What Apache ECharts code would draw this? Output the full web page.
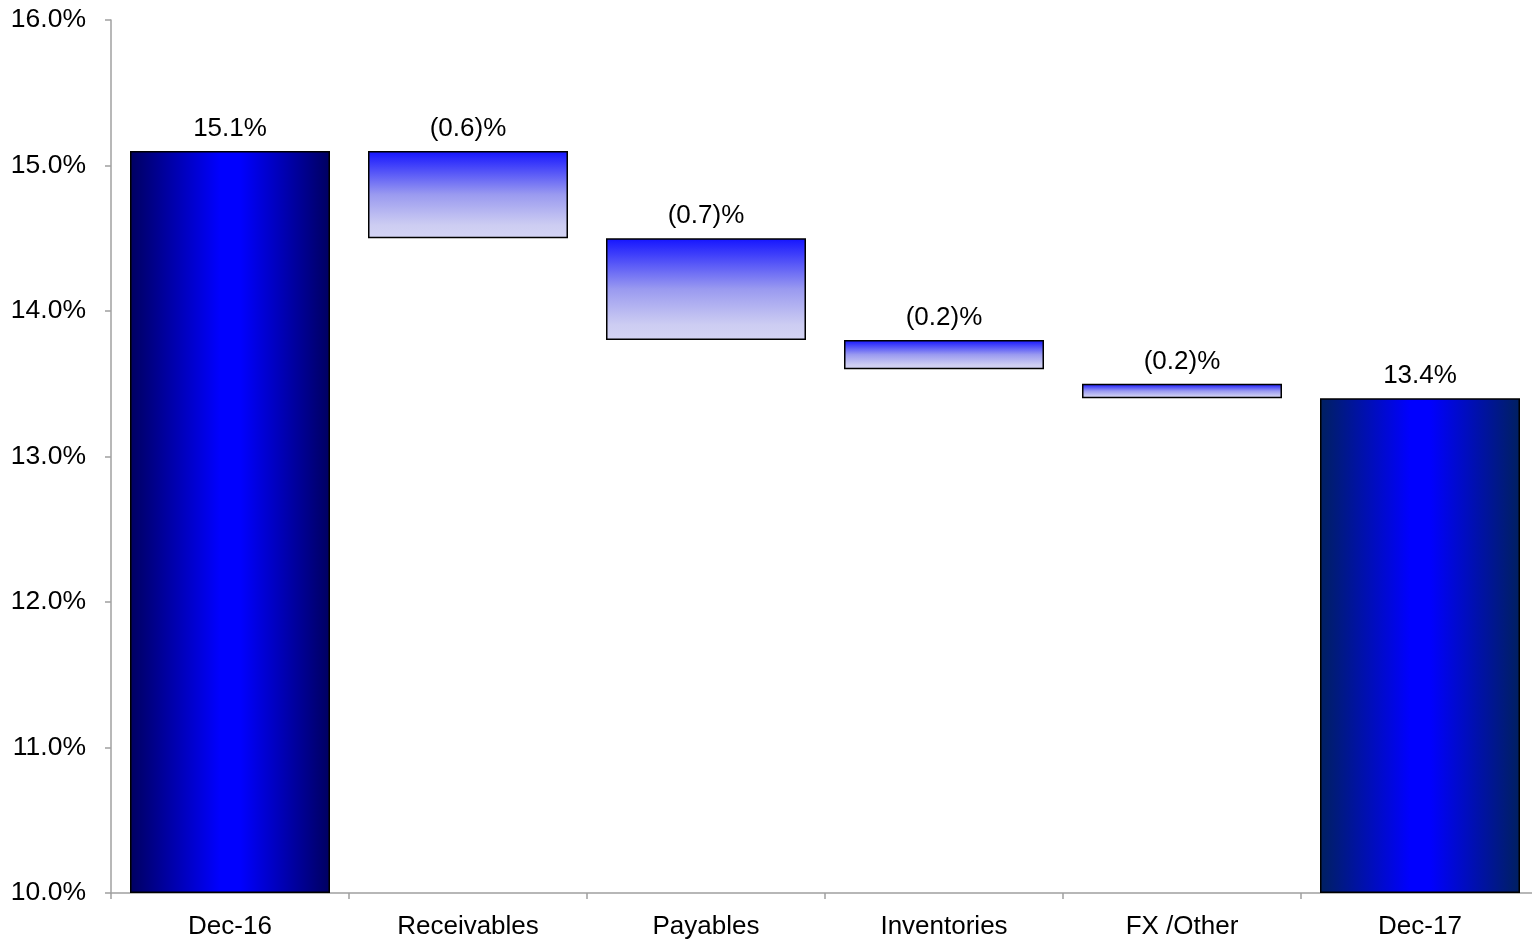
<!DOCTYPE html>
<html>
<head>
<meta charset="utf-8">
<script src="https://cdn.jsdelivr.net/npm/echarts@6/dist/echarts.min.js"></script>
<style>
html,body{margin:0;padding:0;background:#fff;overflow:hidden;width:1532px;height:940px;}
#chart{width:1545px;height:940px;}
</style>
</head>
<body>
<div id="chart"></div>
<script>
const categories = ['Dec-16', 'Receivables', 'Payables', 'Inventories', 'FX /Other', 'Dec-17'];
const barLow = [10.0, 14.5, 13.8, 13.6, 13.4, 10.0];
const barHigh = [15.1, 15.1, 14.5, 13.8, 13.5, 13.4];
const barLabels = ['15.1%', '(0.6)%', '(0.7)%', '(0.2)%', '(0.2)%', '13.4%'];
const yTicks = { min: 10, max: 16, interval: 1 };

const chart = echarts.init(document.getElementById('chart'));

function totalGradient(edge) {
  return new echarts.graphic.LinearGradient(0, 0, 1, 0, [
    { offset: 0, color: edge },
    { offset: 0.45, color: '#0000ff' },
    { offset: 0.55, color: '#0000ff' },
    { offset: 1, color: edge }
  ]);
}
function deltaGradient() {
  return new echarts.graphic.LinearGradient(0, 0, 0, 1, [
    { offset: 0, color: '#1414ff' },
    { offset: 0.5, color: '#9a9af0' },
    { offset: 0.85, color: '#cdcdf2' },
    { offset: 1, color: '#d4d4f4' }
  ]);
}

const baseData = barLow.map(v => v);
const heightData = barHigh.map((h, i) => {
  let color;
  if (i === 0) color = totalGradient('#000060');
  else if (i === 5) color = totalGradient('#002060');
  else color = deltaGradient();
  return {
    value: +(h - barLow[i]).toFixed(2),
    itemStyle: { color: color, borderColor: '#000', borderWidth: 1.5 }
  };
});

const font = 'Liberation Sans, Arial, sans-serif';

chart.setOption({
  animation: false,
  grid: { left: 111, top: 20, width: 1428, height: 873 },
  xAxis: {
    type: 'category',
    data: categories,
    axisLine: { show: true, lineStyle: { color: '#a0a0a0', width: 1.5 } },
    axisTick: { show: true, length: 6, lineStyle: { color: '#a0a0a0', width: 1.5 } },
    axisLabel: { color: '#000', fontSize: 26, fontFamily: font, margin: 21 }
  },
  yAxis: {
    type: 'value',
    min: yTicks.min, max: yTicks.max, interval: yTicks.interval,
    splitLine: { show: false },
    axisLine: { show: true, lineStyle: { color: '#a0a0a0', width: 1.5 } },
    axisTick: { show: true, length: 6, lineStyle: { color: '#a0a0a0', width: 1.5 } },
    axisLabel: {
      color: '#000', fontSize: 26.5, fontFamily: font, margin: 25,
      formatter: v => v.toFixed(1) + '%'
    }
  },
  series: [
    {
      type: 'bar', stack: 'w', data: baseData, barWidth: 200,
      itemStyle: { color: 'transparent' }, silent: true
    },
    {
      type: 'bar', stack: 'w', data: heightData, barWidth: 200,
      label: {
        show: true, position: 'top', distance: 9,
        color: '#000', fontSize: 26, fontFamily: font,
        formatter: p => barLabels[p.dataIndex]
      }
    }
  ]
});
</script>
</body>
</html>
